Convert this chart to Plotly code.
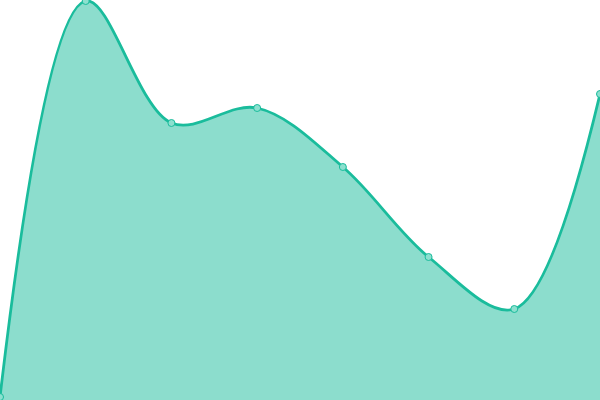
import plotly.graph_objects as go

categories = [0, 1, 2, 3, 4, 5, 6, 7]
values = [3, 399, 277, 292, 233, 143, 91, 306]

LINE = "#1abc9c"
FILL = "rgba(26, 188, 156, 0.5)"

fig = go.Figure()
fig.add_trace(go.Scatter(
    x=categories,
    y=values,
    mode="lines+markers",
    fill="tozeroy",
    fillcolor=FILL,
    line=dict(color=LINE, width=2.8, shape="spline", smoothing=1.0),
    marker=dict(size=7, color="#8ce0cf", line=dict(color=LINE, width=1)),
    cliponaxis=False,
    hoverinfo="skip",
))

fig.update_layout(
    width=600,
    height=400,
    margin=dict(l=0, r=0, t=0, b=0),
    paper_bgcolor="white",
    plot_bgcolor="white",
    showlegend=False,
    xaxis=dict(visible=False, range=[0, 7], fixedrange=True),
    yaxis=dict(visible=False, range=[0, 400], fixedrange=True),
)

# the page body has a default 8px margin, drop it so the chart sits flush
fig.write_html(
    "out.html",
    config={"displayModeBar": False},
    post_script="document.body.style.margin='0';document.body.style.overflow='hidden';",
)
